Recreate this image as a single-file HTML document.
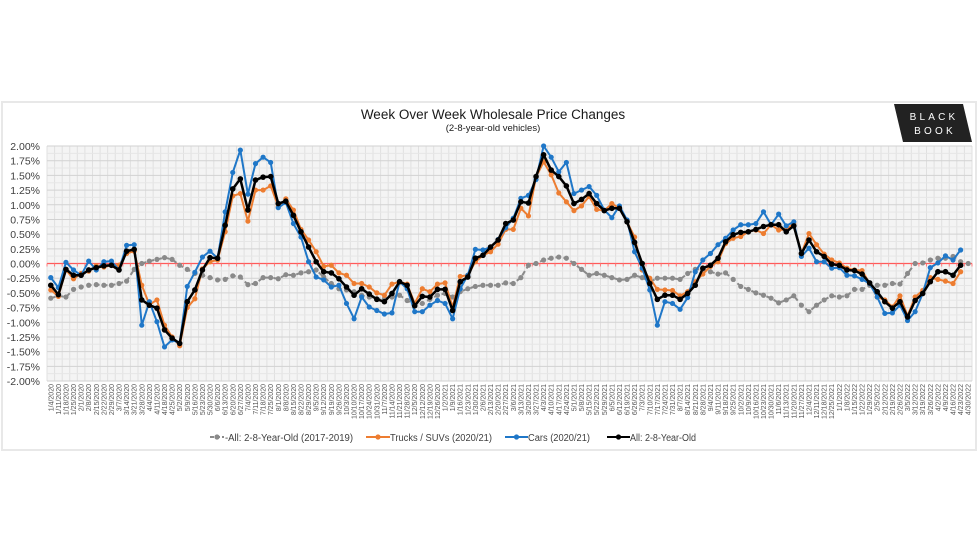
<!DOCTYPE html>
<html><head><meta charset="utf-8">
<style>
html,body{margin:0;padding:0;background:#fff;}
body{width:980px;height:552px;overflow:hidden;position:relative;font-family:"Liberation Sans",sans-serif;}
#frame{position:absolute;left:1px;top:101px;width:976px;height:350px;border:2px solid #e8e8e8;box-sizing:border-box;}
</style></head><body>
<div id="frame"></div>
<svg id="c" width="980" height="552" style="position:absolute;left:0;top:0" xmlns="http://www.w3.org/2000/svg"></svg>
<script>
const svg=document.getElementById('c');
const NS='http://www.w3.org/2000/svg';
function el(t,a,txt){const e=document.createElementNS(NS,t);for(const k in a)e.setAttribute(k,a[k]);if(txt!==undefined)e.textContent=txt;svg.appendChild(e);return e;}
const L=47,R=972,T=146,B=381,N=122;
const sp=(R-L)/N;
const X=i=>L+(i+0.5)*sp;
const Y=v=>263.5-v*58.75;
el('rect',{x:L,y:T,width:R-L,height:B-T,fill:'#f4f4f4'});
for(let i=0;i<=N;i++){const x=L+i*sp;el('line',{x1:x,x2:x,y1:T,y2:B,stroke:'#e0e0e0','stroke-width':1});}
for(let k=0;k<=32;k++){const y=T+k*(B-T)/32;el('line',{x1:L,x2:R,y1:y,y2:y,stroke:k%2?'#e6e6e6':'#d2d2d2','stroke-width':1});}
for(let k=0;k<=16;k++){const v=2-k*0.25;el('text',{x:40,y:Y(v)+4,'text-anchor':'end','font-size':'10.5',fill:'#404040'},v.toFixed(2)+'%');}
el('line',{x1:L,x2:R,y1:263.5,y2:263.5,stroke:'#ff5a5a','stroke-width':1.3});
for(let i=0;i<=N;i++){const x=L+i*sp;el('line',{x1:x,x2:x,y1:263.5,y2:266.5,stroke:'#ff7a7a','stroke-width':1});}
let d=new Date(2020,0,4);
for(let i=0;i<N;i++){const s=(d.getMonth()+1)+'/'+d.getDate()+'/'+d.getFullYear();
const x=X(i)+2.5;el('text',{x:x,y:384,'text-anchor':'end','font-size':'7',fill:'#555',transform:`rotate(-90 ${x} 384)`},s);
d.setDate(d.getDate()+7);}
const gray=[-0.59,-0.55,-0.57,-0.44,-0.40,-0.37,-0.36,-0.37,-0.37,-0.34,-0.30,-0.10,0.0,0.04,0.07,0.10,0.07,-0.03,-0.10,-0.17,-0.20,-0.24,-0.28,-0.27,-0.21,-0.23,-0.36,-0.34,-0.24,-0.24,-0.26,-0.19,-0.20,-0.16,-0.14,-0.11,-0.23,-0.34,-0.43,-0.45,-0.48,-0.54,-0.57,-0.60,-0.60,-0.57,-0.54,-0.63,-0.71,-0.68,-0.61,-0.54,-0.51,-0.57,-0.48,-0.43,-0.39,-0.37,-0.37,-0.37,-0.33,-0.34,-0.24,-0.03,0.0,0.06,0.09,0.11,0.09,0.0,-0.10,-0.20,-0.17,-0.20,-0.24,-0.28,-0.27,-0.20,-0.24,-0.31,-0.25,-0.25,-0.25,-0.27,-0.17,-0.10,-0.10,-0.14,-0.18,-0.16,-0.27,-0.39,-0.44,-0.50,-0.54,-0.59,-0.67,-0.62,-0.55,-0.71,-0.82,-0.71,-0.62,-0.55,-0.57,-0.55,-0.44,-0.44,-0.37,-0.37,-0.37,-0.34,-0.35,-0.17,0.0,0.01,0.06,0.09,0.09,0.12,0.03,0.0];
const orange=[-0.45,-0.56,-0.11,-0.26,-0.17,-0.13,-0.04,-0.06,-0.03,-0.03,0.17,0.21,-0.37,-0.70,-0.62,-1.05,-1.25,-1.40,-0.75,-0.60,-0.09,0.03,0.06,0.54,1.15,1.19,0.72,1.25,1.25,1.32,0.97,1.10,0.91,0.58,0.40,0.20,-0.05,-0.03,-0.16,-0.20,-0.34,-0.34,-0.40,-0.50,-0.54,-0.35,-0.31,-0.35,-0.68,-0.43,-0.48,-0.35,-0.33,-0.74,-0.22,-0.20,0.03,0.14,0.20,0.33,0.58,0.58,0.94,0.81,1.47,1.73,1.51,1.20,1.05,0.90,0.98,1.14,0.92,0.90,1.02,0.94,0.71,0.45,-0.11,-0.25,-0.44,-0.45,-0.46,-0.55,-0.48,-0.31,-0.18,-0.05,0.03,0.34,0.43,0.46,0.54,0.57,0.51,0.66,0.57,0.58,0.68,0.17,0.51,0.32,0.16,0.06,0.01,-0.08,-0.11,-0.12,-0.34,-0.57,-0.62,-0.74,-0.55,-0.89,-0.57,-0.46,-0.24,-0.27,-0.30,-0.34,-0.14];
const blue=[-0.24,-0.41,0.02,-0.11,-0.20,0.04,-0.11,0.03,0.04,-0.11,0.31,0.32,-1.05,-0.65,-0.99,-1.42,-1.30,-1.36,-0.39,-0.15,0.11,0.21,0.09,0.88,1.55,1.93,1.18,1.70,1.81,1.72,0.95,1.04,0.68,0.45,0.03,-0.23,-0.28,-0.40,-0.37,-0.68,-0.94,-0.57,-0.74,-0.80,-0.86,-0.84,-0.31,-0.43,-0.82,-0.82,-0.71,-0.63,-0.68,-0.94,-0.43,-0.20,0.24,0.23,0.28,0.41,0.61,0.77,1.11,1.16,1.43,2.00,1.81,1.56,1.72,1.19,1.25,1.31,1.16,0.91,0.78,0.98,0.74,0.20,-0.08,-0.45,-1.05,-0.65,-0.68,-0.78,-0.58,-0.14,0.06,0.17,0.32,0.43,0.57,0.66,0.66,0.68,0.88,0.66,0.84,0.64,0.71,0.12,0.26,0.03,0.03,-0.08,-0.07,-0.20,-0.21,-0.27,-0.34,-0.57,-0.85,-0.84,-0.71,-0.97,-0.82,-0.51,-0.07,0.01,0.13,0.06,0.23];
const black=[-0.37,-0.53,-0.10,-0.20,-0.20,-0.11,-0.07,-0.04,-0.03,-0.11,0.21,0.24,-0.62,-0.71,-0.76,-1.13,-1.27,-1.36,-0.65,-0.45,-0.11,0.10,0.09,0.65,1.27,1.44,0.91,1.42,1.47,1.48,1.02,1.06,0.82,0.54,0.28,0.03,-0.14,-0.16,-0.26,-0.40,-0.54,-0.43,-0.52,-0.61,-0.65,-0.51,-0.31,-0.37,-0.72,-0.56,-0.57,-0.44,-0.44,-0.80,-0.31,-0.23,0.09,0.14,0.28,0.40,0.68,0.74,1.05,1.03,1.48,1.85,1.59,1.48,1.32,1.02,1.09,1.19,1.02,0.90,0.94,0.94,0.71,0.36,0.0,-0.34,-0.61,-0.54,-0.54,-0.61,-0.51,-0.37,-0.08,-0.03,0.09,0.37,0.49,0.53,0.54,0.58,0.63,0.66,0.66,0.54,0.64,0.17,0.40,0.20,0.12,-0.01,-0.03,-0.11,-0.12,-0.18,-0.33,-0.48,-0.65,-0.76,-0.65,-0.91,-0.63,-0.51,-0.31,-0.14,-0.14,-0.20,-0.03];
function series(a,col,w,r,dash){
 const pts=a.map((v,i)=>X(i).toFixed(1)+','+Y(v).toFixed(1)).join(' ');
 const o={points:pts,fill:'none',stroke:col,'stroke-width':w,'stroke-linejoin':'round'};if(dash)o['stroke-dasharray']=dash;
 el('polyline',o);
 a.forEach((v,i)=>el('circle',{cx:X(i),cy:Y(v),r:r,fill:col}));
}
series(gray,'#8a8a8a',2,2.6,'5,3');
series(orange,'#ed7d31',2,2.6);
series(blue,'#1f77c8',2,2.6);
series(black,'#000',2.5,2.8);
el('text',{x:493,y:119,'text-anchor':'middle','font-size':'13.5',fill:'#1a1a1a'},'Week Over Week Wholesale Price Changes');
el('text',{x:493,y:131,'text-anchor':'middle','font-size':'9.5',fill:'#1a1a1a'},'(2-8-year-old vehicles)');
el('polygon',{points:'894,104 963,104 972,142 903,142',fill:'#222'});
el('text',{x:934,y:120,'text-anchor':'middle','font-size':'10','letter-spacing':'3.2',fill:'#fff'},'BLACK');
el('text',{x:935,y:134,'text-anchor':'middle','font-size':'10','letter-spacing':'3.2',fill:'#fff'},'BOOK');
function leg(x1,x2,tx,col,txt,dash,tw){const o={x1:x1,x2:x2,y1:437,y2:437,stroke:col,'stroke-width':2};if(dash)o['stroke-dasharray']='4,2';el('line',o);
 el('circle',{cx:(x1+x2)/2,cy:437,r:2.6,fill:col});el('text',{x:tx,y:441,'font-size':'10',fill:'#404040',textLength:tw,lengthAdjust:'spacingAndGlyphs'},txt);}
leg(210,224,225,'#8a8a8a','-All: 2-8-Year-Old (2017-2019)',true,128);
leg(366,390,390,'#ed7d31','Trucks / SUVs (2020/21)',false,102);
leg(505,528,528,'#1f77c8','Cars (2020/21)',false,62);
leg(607,630,630,'#000','All: 2-8-Year-Old',false,66);
</script>
</body></html>
